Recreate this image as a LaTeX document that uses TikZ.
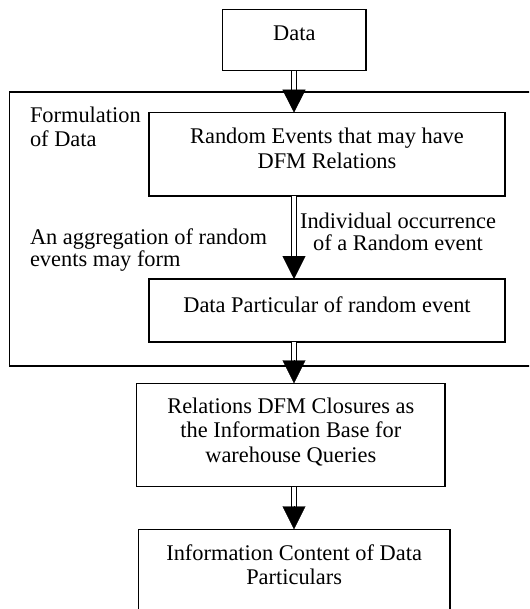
\documentclass[tikz,border=0pt]{standalone}
\usepackage{fontspec}
\setmainfont{Liberation Serif}
\usetikzlibrary{arrows.meta,calc}
\newcommand\fsz[1]{\fontsize{22.4pt}{#1}\selectfont\lineskiplimit=-100pt\relax}
\newcommand\fl{\rule{0pt}{17pt}}
\newcommand\boxtxt[4]{\parbox[c][#2][t]{#1}{\centering\vspace*{#3}\fl #4\par}}
\tikzset{
  boxnode/.style={draw, line width=1.4pt, inner sep=0pt, outer sep=0pt},
  framebox/.style={draw, line width=1.3pt, inner sep=0pt, outer sep=0pt},
  lbl/.style={inner sep=0pt, outer sep=0pt},
  shaft/.style={draw, line width=1.3pt, double, double distance=4pt, shorten >=18pt},
  head/.style={draw, -{Triangle[width=23pt,length=23pt]}, line width=0.4pt},
}
\begin{document}
\begin{tikzpicture}[x=1pt, y=-1pt]
\useasboundingbox (0,0) rectangle (529,609);
\clip (0,0) rectangle (529,609);
\coordinate (ax) at (294,0);
% outer frame
\node[framebox, minimum width=550.5pt, minimum height=274pt] (frame) at (284.75,229) {};
% boxes
\node[boxnode, font=\fsz{24.5pt}] (data) at (294.35,40) {\boxtxt{143.3pt}{61.4pt}{14.5pt}{Data}};
\node[boxnode, font=\fsz{25pt}] (rand) at (327,154.35) {\boxtxt{356pt}{83.3pt}{14.3pt}{Random Events that may have\\DFM Relations}};
\node[boxnode, font=\fsz{24.5pt}] (dpart) at (327,310.5) {\boxtxt{356pt}{63pt}{16pt}{Data Particular of random event}};
\node[boxnode, font=\fsz{24.5pt}] (rel) at (290.85,435) {\boxtxt{308.3pt}{103.4pt}{12.7pt}{Relations DFM Closures as\\the Information Base for\\warehouse Queries}};
\node[boxnode, font=\fsz{24pt}] (info) at (294.15,579.65) {\boxtxt{311.7pt}{100.7pt}{13.7pt}{Information Content of Data\\Particulars}};
% free labels
\node[lbl, anchor=north west, align=left, font=\fsz{24pt}] (form) at (30,105.7) {\fl Formulation\\of Data};
\node[lbl, anchor=north west, align=left, font=\fsz{22pt}] (aggr) at (30,227) {\fl An aggregation of random\\events may form};
\node[lbl, anchor=north, align=center, font=\fsz{22pt}] (indiv) at (398,211.5) {\fl Individual occurrence\\of a Random event};
% connectors
\draw[shaft] (data.south -| ax) -- (rand.north -| ax);
\draw[head] ($(rand.north -| ax)+(0,-23)$) -- (rand.north -| ax);
\draw[shaft] (rand.south -| ax) -- (dpart.north -| ax);
\draw[head] ($(dpart.north -| ax)+(0,-23)$) -- (dpart.north -| ax);
\draw[shaft] (dpart.south -| ax) -- (rel.north -| ax);
\draw[head] ($(rel.north -| ax)+(0,-23)$) -- (rel.north -| ax);
\draw[shaft] (rel.south -| ax) -- (info.north -| ax);
\draw[head] ($(info.north -| ax)+(0,-23)$) -- (info.north -| ax);
\end{tikzpicture}
\end{document}
